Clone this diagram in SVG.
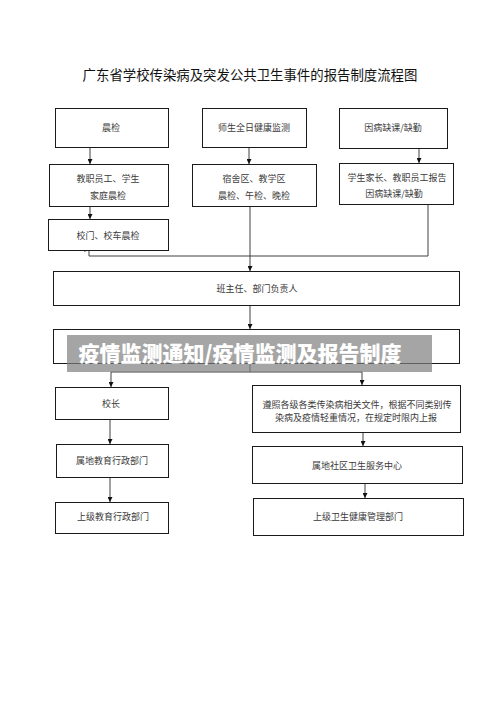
<svg xmlns="http://www.w3.org/2000/svg" width="500" height="707" viewBox="0 0 500 707">
<defs>
<style>
.box{fill:#fff;stroke:#1a1a1a;stroke-width:1}
.t{font-family:"Noto Sans CJK SC","Liberation Serif",sans-serif;font-size:9px;fill:#3a3a3a;text-anchor:middle}
.title{font-family:"Noto Sans CJK SC","Liberation Sans",sans-serif;font-size:13.4px;fill:#111;text-anchor:middle}
.c{fill:none;stroke:#404040;stroke-width:1}
.ban{font-family:"Noto Sans CJK SC","Liberation Sans",sans-serif;font-size:21px;font-weight:900;fill:#fff;text-anchor:middle}
</style>
<marker id="ah" viewBox="0 0 8 8" refX="8" refY="4" markerWidth="5" markerHeight="5" orient="auto" markerUnits="userSpaceOnUse">
<path d="M0,0 L8,4 L0,8 Z" fill="#111"/>
</marker>
</defs>
<rect width="500" height="707" fill="#fff"/>
<text class="title" x="250" y="80">广东省学校传染病及突发公共卫生事件的报告制度流程图</text>

<g id="connectors">
<path class="c" d="M90,147 V164" marker-end="url(#ah)"/>
<path class="c" d="M249,147 V164" marker-end="url(#ah)"/>
<path class="c" d="M419,148 V163" marker-end="url(#ah)"/>
<path class="c" d="M90,206 V219" marker-end="url(#ah)"/>
<path class="c" d="M428,204 V256 H89 V250"/>
<path d="M84,248 L89.5,250 L84,252 Z" fill="#4a6fa5"/>
<path class="c" d="M250,206 V271" marker-end="url(#ah)"/>
<path class="c" d="M250,305 V329" marker-end="url(#ah)"/>
<path class="c" d="M250,363 V372 M111,372 H362"/>
<path class="c" d="M111,372 V387" marker-end="url(#ah)"/>
<path class="c" d="M362,372 V385" marker-end="url(#ah)"/>
<path class="c" d="M110,419 V444" marker-end="url(#ah)"/>
<path class="c" d="M110,477 V502" marker-end="url(#ah)"/>
<path class="c" d="M363,432 V446" marker-end="url(#ah)"/>
<path class="c" d="M365,483 V498" marker-end="url(#ah)"/>
</g>

<g id="n-chenjian"><rect class="box" x="55.5" y="108.5" width="113" height="39"/><text class="t" x="111" y="131">晨检</text></g>
<g id="n-quanri"><rect class="box" x="202.5" y="108.5" width="104" height="39"/><text class="t" x="254" y="131">师生全日健康监测</text></g>
<g id="n-queqin"><rect class="box" x="339.5" y="108.5" width="108" height="40"/><text class="t" x="393" y="131">因病缺课/缺勤</text></g>

<g id="n-jiating"><rect class="box" x="49.5" y="164.5" width="119" height="42"/><text class="t" x="108" y="182">教职员工、学生</text><text class="t" x="108" y="199">家庭晨检</text></g>
<g id="n-sushe"><rect class="box" x="192.5" y="164.5" width="124" height="42"/><text class="t" x="254" y="182">宿舍区、教学区</text><text class="t" x="254" y="199">晨检、午检、晚检</text></g>
<g id="n-baogao"><rect class="box" x="339.5" y="163.5" width="114" height="41"/><text class="t" x="397" y="181">学生家长、教职员工报告</text><text class="t" x="394" y="197">因病缺课/缺勤</text></g>
<g id="n-xiaomen"><rect class="box" x="48.5" y="219.5" width="120" height="31"/><text class="t" x="108" y="239">校门、校车晨检</text></g>

<g id="n-banzhuren"><rect class="box" x="53.5" y="271.5" width="406" height="34"/><text class="t" x="257" y="292">班主任、部门负责人</text></g>
<g id="n-tongzhi"><rect class="box" x="53.5" y="329.5" width="406" height="34"/></g>

<g id="n-xiaozhang"><rect class="box" x="55.5" y="387.5" width="113" height="32"/><text class="t" x="111" y="407">校长</text></g>
<g id="n-shudijiaoyu"><rect class="box" x="56.5" y="444.5" width="112" height="33"/><text class="t" x="112" y="464">属地教育行政部门</text></g>
<g id="n-shangjijiaoyu"><rect class="box" x="55.5" y="502.5" width="113" height="31"/><text class="t" x="113" y="520">上级教育行政部门</text></g>

<g id="n-zunzhao"><rect class="box" x="252.5" y="385.5" width="208" height="47"/><text class="t" x="357" y="408">遵照各级各类传染病相关文件，根据不同类别传</text><text class="t" x="356" y="421">染病及疫情轻重情况，在规定时限内上报</text></g>
<g id="n-shequ"><rect class="box" x="252.5" y="446.5" width="210" height="37"/><text class="t" x="357" y="469">属地社区卫生服务中心</text></g>
<g id="n-shangjiweisheng"><rect class="box" x="253.5" y="498.5" width="210" height="37"/><text class="t" x="358" y="520">上级卫生健康管理部门</text></g>

<g id="banner">
<rect x="67" y="335" width="365" height="37" fill="#7f7f7f" fill-opacity="0.7"/>
<text class="ban" x="240" y="361">疫情监测通知/疫情监测及报告制度</text>
</g>
</svg>
